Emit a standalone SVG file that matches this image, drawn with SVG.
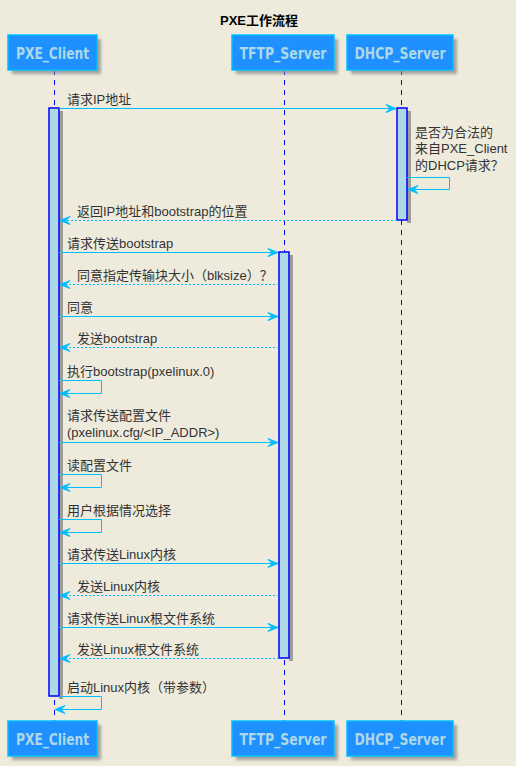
<svg xmlns="http://www.w3.org/2000/svg" width="516" height="766" viewBox="0 0 516 766">
<defs>
<filter id="sh" x="-20%" y="-20%" width="140%" height="140%"><feGaussianBlur stdDeviation="1.5"/></filter>
<marker id="ah" markerWidth="12" markerHeight="10" refX="11" refY="5" orient="auto" markerUnits="userSpaceOnUse">
<polygon points="1,1 11,5 1,9 5,5" fill="#00BFFF" stroke="#00BFFF" stroke-width="1"/>
</marker>
</defs>
<style>
.pbox{fill:#1E90FF;stroke:#00BFFF;stroke-width:1.5}
.shadow{fill:#8a8a8a;opacity:0.75;filter:url(#sh)}
.pname{font-family:"Liberation Sans Narrow","DejaVu Sans Condensed","Liberation Sans",sans-serif;font-weight:bold;font-size:16px;fill:#ADD8E6;text-anchor:middle}
.life{stroke:#0000FF;stroke-width:1;stroke-dasharray:5,5;fill:none}
.act{fill:#ADD8E6;stroke:#0000FF;stroke-width:1.5}
.msg{stroke:#00BFFF;stroke-width:1;fill:none;marker-end:url(#ah)}
.ret{stroke:#00BFFF;stroke-width:1;fill:none;stroke-dasharray:2,2;marker-end:url(#ah)}
.t{font-family:"Liberation Sans","Noto Sans CJK SC",sans-serif;font-size:13px;fill:#333333}
.title{font-family:"Liberation Sans","Noto Sans CJK SC",sans-serif;font-size:13px;font-weight:bold;fill:#000000;text-anchor:middle}
</style>
<rect width="516" height="766" fill="#EEEBDC"/>
<text class="title" x="259" y="25">PXE工作流程</text>

<g id="lifelines" transform="translate(0.5,0)">
<line class="life" x1="54" y1="70" x2="54" y2="721"/>
<line class="life" x1="284" y1="70" x2="284" y2="721"/>
<line class="life" x1="401" y1="70" x2="401" y2="721"/>
</g>

<g id="PXE_Client">
<rect class="shadow" x="12" y="39" width="89" height="35"/>
<rect class="pbox" x="8" y="35" width="89" height="35"/>
<text class="pname" x="52.5" y="59" textLength="73" lengthAdjust="spacingAndGlyphs">PXE_Client</text>
<rect class="shadow" x="12" y="725" width="89" height="35"/>
<rect class="pbox" x="8" y="721" width="89" height="35"/>
<text class="pname" x="52.5" y="745" textLength="73" lengthAdjust="spacingAndGlyphs">PXE_Client</text>
</g>
<g id="TFTP_Server">
<rect class="shadow" x="236" y="39" width="102" height="35"/>
<rect class="pbox" x="232" y="35" width="102" height="35"/>
<text class="pname" x="283" y="59" textLength="87" lengthAdjust="spacingAndGlyphs">TFTP_Server</text>
<rect class="shadow" x="236" y="725" width="102" height="35"/>
<rect class="pbox" x="232" y="721" width="102" height="35"/>
<text class="pname" x="283" y="745" textLength="87" lengthAdjust="spacingAndGlyphs">TFTP_Server</text>
</g>
<g id="DHCP_Server">
<rect class="shadow" x="351" y="39" width="106" height="35"/>
<rect class="pbox" x="347" y="35" width="106" height="35"/>
<text class="pname" x="400" y="59" textLength="91" lengthAdjust="spacingAndGlyphs">DHCP_Server</text>
<rect class="shadow" x="351" y="725" width="106" height="35"/>
<rect class="pbox" x="347" y="721" width="106" height="35"/>
<text class="pname" x="400" y="745" textLength="91" lengthAdjust="spacingAndGlyphs">DHCP_Server</text>
</g>

<g id="activations">
<rect x="59" y="111" width="4" height="588" fill="#8a8a8a" opacity="0.8"/>
<rect class="act" x="49" y="108" width="10" height="588"/>
<rect x="407" y="111" width="4" height="112" fill="#8a8a8a" opacity="0.8"/>
<rect class="act" x="397" y="108" width="10" height="112"/>
<rect x="289" y="255" width="4" height="406" fill="#8a8a8a" opacity="0.8"/>
<rect class="act" x="279" y="252" width="10" height="406"/>
</g>

<g id="connectors" transform="translate(0,0.5)">
<line class="msg" x1="59" y1="108" x2="396" y2="108"/>
<polyline class="msg" points="407,177 449.5,177 449.5,189 408,189"/>
<line class="ret" x1="397" y1="220" x2="60" y2="220"/>
<line class="msg" x1="59" y1="252" x2="278" y2="252"/>
<line class="ret" x1="279" y1="284" x2="60" y2="284"/>
<line class="msg" x1="59" y1="316" x2="278" y2="316"/>
<line class="ret" x1="279" y1="347" x2="60" y2="347"/>
<polyline class="msg" points="59,380 101.5,380 101.5,393 60,393"/>
<line class="msg" x1="59" y1="442" x2="278" y2="442"/>
<polyline class="msg" points="59,474 101.5,474 101.5,487 60,487"/>
<polyline class="msg" points="59,519 101.5,519 101.5,532 60,532"/>
<line class="msg" x1="59" y1="563" x2="278" y2="563"/>
<line class="ret" x1="279" y1="595" x2="60" y2="595"/>
<line class="msg" x1="59" y1="627" x2="278" y2="627"/>
<line class="ret" x1="279" y1="658" x2="60" y2="658"/>
<polyline class="msg" points="59,696 101.5,696 101.5,709 55,709"/>
</g>

<g id="labels">
<text class="t" x="67" y="104">请求IP地址</text>
<text class="t" x="415" y="137">是否为合法的</text>
<text class="t" x="415" y="153">来自PXE_Client</text>
<text class="t" x="415" y="170">的DHCP请求？</text>
<text class="t" x="77" y="216">返回IP地址和bootstrap的位置</text>
<text class="t" x="67" y="248">请求传送bootstrap</text>
<text class="t" x="77" y="280">同意指定传输块大小（blksize）？</text>
<text class="t" x="67" y="312">同意</text>
<text class="t" x="77" y="343">发送bootstrap</text>
<text class="t" x="67" y="376">执行bootstrap(pxelinux.0)</text>
<text class="t" x="67" y="420">请求传送配置文件</text>
<text class="t" x="67" y="437">(pxelinux.cfg/&lt;IP_ADDR&gt;)</text>
<text class="t" x="67" y="470">读配置文件</text>
<text class="t" x="67" y="515">用户根据情况选择</text>
<text class="t" x="67" y="559">请求传送Linux内核</text>
<text class="t" x="77" y="591">发送Linux内核</text>
<text class="t" x="67" y="623">请求传送Linux根文件系统</text>
<text class="t" x="77" y="654">发送Linux根文件系统</text>
<text class="t" x="67" y="692">启动Linux内核（带参数）</text>
</g>
</svg>
